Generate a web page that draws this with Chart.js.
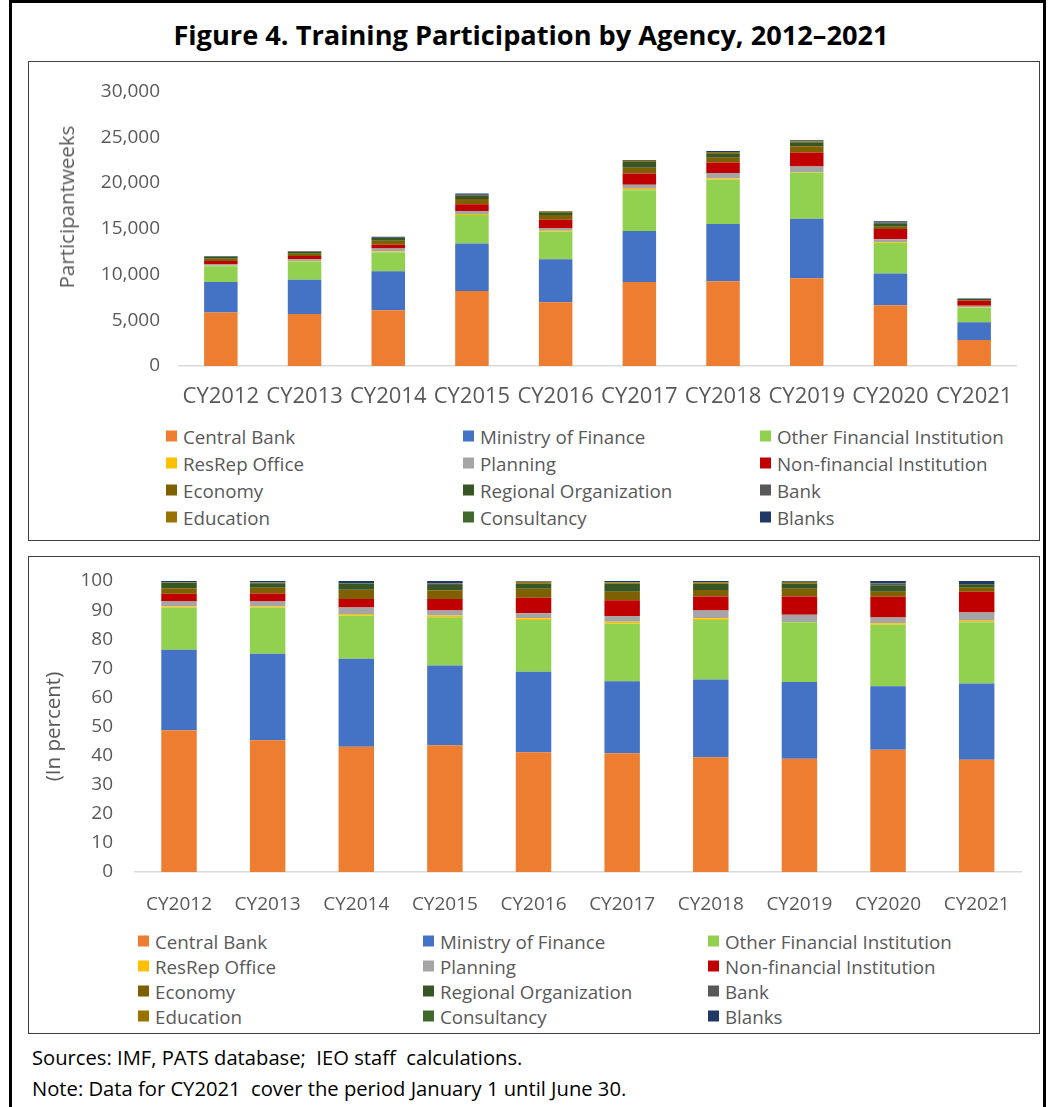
<!DOCTYPE html>
<html>
<head>
<meta charset="utf-8">
<script src="https://cdn.jsdelivr.net/npm/chart.js@4.4.1/dist/chart.umd.min.js"></script>
<style>
  body { margin: 0; background: #fff; font-family: "Open Sans", sans-serif; }
  #page { position: relative; width: 1050px; height: 1107px; overflow: hidden; }
  .frame { position: absolute; left: 9px; top: 0; width: 1037px; height: 1130px; border: 3px solid #000; box-sizing: border-box; }
  .box { position: absolute; left: 28px; width: 1012px; border: 1px solid #404040; box-sizing: border-box; }
  #title { position: absolute; left: 6px; top: 15px; width: 1050px; text-align: center; font-weight: bold; font-size: 27.2px; line-height: 40px; color: #000; }
  canvas { position: absolute; }
  .ytitle { position: absolute; font-size: 20.5px; color: #595959; white-space: nowrap; transform: translate(-50%, -50%) rotate(-90deg); }
  .legend { position: absolute; font-size: 18.75px; color: #595959; }
  .legend .item { position: absolute; display: flex; align-items: center; white-space: nowrap; transform: translateY(-50%); }
  .legend .sq { width: 11px; height: 11px; margin-right: 6px; }
  .note { position: absolute; left: 32px; font-size: 20.2px; color: #000; transform: translateY(-50%); white-space: pre; }
</style>
</head>
<body>
<div id="page">
  <div class="frame"></div>
  <div id="title">Figure 4. Training Participation by Agency, 2012–2021</div>
  <div class="box" style="top:61px;height:480px;"></div>
  <div class="box" style="top:556px;height:478px;"></div>
  <canvas id="chart-weeks" width="1010" height="359" style="left:29px;top:62px;"></canvas>
  <div class="ytitle" style="left:66px;top:207px;">Participantweeks</div>
  <div class="legend" id="legend-weeks"></div>
  <canvas id="chart-pct" width="1010" height="365" style="left:29px;top:557px;"></canvas>
  <div class="legend" id="legend-pct"></div>
  <div class="note" style="top:1057px;">Sources: IMF, PATS database;  IEO staff  calculations.</div>
  <div class="note" style="top:1088px;">Note: Data for CY2021  cover the period January 1 until June 30.</div>
</div>
<script>
const years = ['CY2012', 'CY2013', 'CY2014', 'CY2015', 'CY2016', 'CY2017', 'CY2018', 'CY2019', 'CY2020', 'CY2021'];

// participant weeks by agency type
const centralBank       = [5850, 5690, 6080, 8210, 6980, 9180, 9260, 9590, 6640, 2850];
const ministryOfFinance = [3320, 3730, 4270, 5170, 4680, 5580, 6270, 6510, 3460, 1940];
const otherFinancial    = [1740, 2000, 2090, 3130, 3020, 4460, 4820, 5060, 3340, 1550];
const resRepOffice      = [50, 50, 80, 110, 100, 140, 140, 30, 80, 40];
const planning          = [200, 200, 310, 320, 290, 450, 610, 620, 320, 210];
const nonFinancial      = [320, 350, 420, 750, 900, 1220, 1130, 1530, 1120, 530];
const economy           = [230, 250, 440, 570, 530, 650, 540, 670, 270, 100];
const regionalOrg       = [220, 190, 310, 340, 300, 610, 490, 440, 360, 90];
const bank              = [10, 40, 0, 90, 0, 0, 0, 0, 80, 0];
const education         = [10, 10, 0, 0, 100, 110, 120, 120, 0, 0];
const consultancy       = [20, 10, 10, 20, 20, 20, 20, 20, 20, 0];
const blanks            = [40, 40, 110, 150, 30, 90, 90, 70, 130, 80];

const weeksTicks = [0, 5000, 10000, 15000, 20000, 25000, 30000];
const pctTicks = [0, 10, 20, 30, 40, 50, 60, 70, 80, 90, 100];

const series = [
  { name: 'Central Bank', data: centralBank, color: '#ED7D31' },
  { name: 'Ministry of Finance', data: ministryOfFinance, color: '#4472C4' },
  { name: 'Other Financial Institution', data: otherFinancial, color: '#92D050' },
  { name: 'ResRep Office', data: resRepOffice, color: '#FFC000' },
  { name: 'Planning', data: planning, color: '#A5A5A5' },
  { name: 'Non-financial Institution', data: nonFinancial, color: '#C00000' },
  { name: 'Economy', data: economy, color: '#7F6000' },
  { name: 'Regional Organization', data: regionalOrg, color: '#375623' },
  { name: 'Bank', data: bank, color: '#595959' },
  { name: 'Education', data: education, color: '#997300' },
  { name: 'Consultancy', data: consultancy, color: '#43682B' },
  { name: 'Blanks', data: blanks, color: '#1F3864' }
];

// share of each year's total, in percent
const totals = years.map((y, i) => series.reduce((s, d) => s + d.data[i], 0));
const shareOf = arr => arr.map((v, i) => v / totals[i] * 100);

const fontFamily = '"Open Sans", sans-serif';
const tickColor = '#595959';

function makeDatasets(pct) {
  return series.map(s => ({
    label: s.name,
    data: pct ? shareOf(s.data) : s.data,
    backgroundColor: s.color,
    borderWidth: 0,
    categoryPercentage: 1,
    barPercentage: 0.4
  }));
}

function buildLegend(el, cols, rows) {
  series.forEach((s, i) => {
    const item = document.createElement('div');
    item.className = 'item';
    item.style.left = cols[i % 3] + 'px';
    item.style.top = rows[Math.floor(i / 3)] + 'px';
    item.innerHTML = '<span class="sq" style="background:' + s.color + '"></span>' + s.name;
    el.appendChild(item);
  });
}
buildLegend(document.getElementById('legend-weeks'), [166, 463, 760], [436, 463, 490, 517]);
buildLegend(document.getElementById('legend-pct'), [138, 423, 708], [941, 966, 991, 1016]);

// fixed axis sizes so the plot areas sit where the original ones do
function fixY(width) {
  return s => { s.width = width; s.paddingTop = 0; s.paddingBottom = 0; };
}
function fixX(height) {
  return s => { s.height = height; s.paddingLeft = 0; s.paddingRight = 0; };
}

new Chart(document.getElementById('chart-weeks'), {
  type: 'bar',
  data: { labels: years, datasets: makeDatasets(false) },
  options: {
    responsive: false,
    animation: false,
    devicePixelRatio: 1,
    layout: { padding: { top: 29.5, right: 23, left: 0, bottom: 0 } },
    plugins: { legend: { display: false }, tooltip: { enabled: false } },
    scales: {
      x: {
        stacked: true,
        grid: { display: false, drawTicks: false },
        border: { display: true, color: '#D9D9D9', width: 1.5 },
        ticks: { font: { family: fontFamily, size: 22 }, color: tickColor, padding: 18, maxRotation: 0 },
        afterFit: fixX(55)
      },
      y: {
        stacked: true,
        min: 0,
        max: 30000,
        afterBuildTicks: s => { s.ticks = weeksTicks.map(v => ({ value: v })); },
        grid: { display: false, drawTicks: false },
        border: { display: false },
        ticks: { font: { family: fontFamily, size: 19 }, color: tickColor, padding: 19 },
        afterFit: fixY(150)
      }
    }
  }
});

new Chart(document.getElementById('chart-pct'), {
  type: 'bar',
  data: { labels: years, datasets: makeDatasets(true) },
  options: {
    responsive: false,
    animation: false,
    devicePixelRatio: 1,
    layout: { padding: { top: 24, right: 18, left: 0, bottom: 0 } },
    plugins: { legend: { display: false }, tooltip: { enabled: false } },
    scales: {
      x: {
        stacked: true,
        grid: { display: false, drawTicks: false },
        border: { display: true, color: '#D9D9D9', width: 1.5 },
        ticks: { font: { family: fontFamily, size: 19 }, color: tickColor, padding: 21, maxRotation: 0 },
        afterFit: fixX(50)
      },
      y: {
        stacked: true,
        min: 0,
        max: 100,
        afterBuildTicks: s => { s.ticks = pctTicks.map(v => ({ value: v })); },
        grid: { display: false, drawTicks: false },
        border: { display: false },
        ticks: { font: { family: fontFamily, size: 19 }, color: tickColor, padding: 21.7 },
        title: {
          display: true,
          text: '(In percent)',
          color: tickColor,
          font: { family: fontFamily, size: 20.5 },
          padding: { top: 13, bottom: 0 }
        },
        afterFit: fixY(105.7)
      }
    }
  }
});
</script>
</body>
</html>
